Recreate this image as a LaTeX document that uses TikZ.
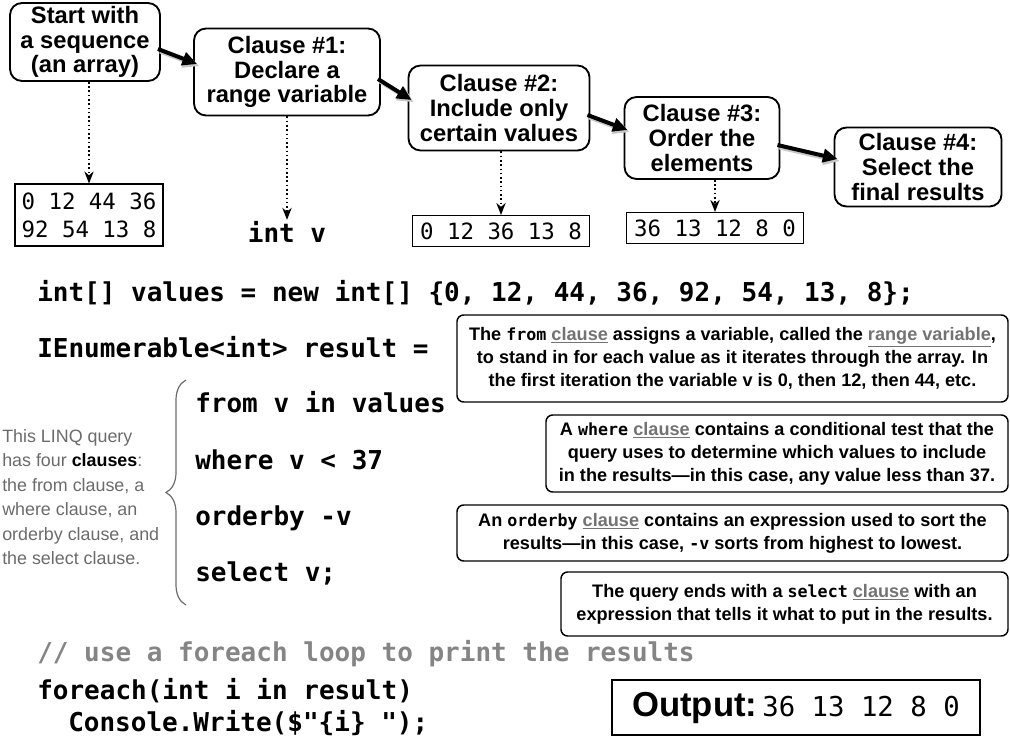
\documentclass[tikz,border=0pt]{standalone}
\usepackage{fontspec}
\setmainfont{Liberation Sans}
\newfontfamily\mono{DejaVu Sans Mono}
\usetikzlibrary{arrows.meta,calc,decorations.pathreplacing}
\definecolor{notegray}{gray}{0.42}
\definecolor{ulgray}{gray}{0.45}
\definecolor{commentgray}{gray}{0.52}
\newcommand{\ulc}[1]{\textcolor{ulgray}{\underline{#1}}}
\newcommand{\cw}[1]{{\mono\fontsize{12.5pt}{12.5pt}\selectfont #1}}
\begin{document}
\begin{tikzpicture}[x=0.75pt,y=-0.75pt,
  topbox/.style={draw, line width=1.4pt, rounded corners=9pt, align=center, inner sep=0pt,
    font=\fontsize{17.8pt}{18.4pt}\selectfont\bfseries},
  arrbox/.style={draw, line width=0.8pt, align=center, inner sep=0pt,
    font=\mono\fontsize{16.8pt}{21pt}\selectfont},
  expbox/.style={draw, line width=1.1pt, rounded corners=5pt, align=center, inner sep=0pt,
    font=\fontsize{13.6pt}{17.25pt}\selectfont\bfseries},
  codeline/.style={anchor=base west, inner sep=0pt,
    font=\mono\bfseries\fontsize{19.5pt}{19.5pt}\selectfont},
  bigarrow/.style={line width=3pt, -{Triangle[length=11pt,width=10pt]}},
  arrowshadow/.style={line width=3.5pt, black!22, -{Triangle[length=12pt,width=11pt]},
    transform canvas={shift={(1.6pt,-1.6pt)}}},
  dotarrow/.style={line width=1.2pt, dotted, -{Stealth[length=9pt,width=7pt]}}
]
\useasboundingbox (0,0) rectangle (1010,742);

% top flow boxes
\node[topbox, minimum width=150*0.75pt, minimum height=78*0.75pt] (b0) at (85,42) {Start with\\a sequence\\(an array)};
\node[topbox, minimum width=186*0.75pt, minimum height=87*0.75pt] (b1) at (287,72) {Clause \#1:\\Declare a\\range variable};
\node[topbox, minimum width=181*0.75pt, minimum height=85*0.75pt] (b2) at (499,108) {Clause \#2:\\Include only\\certain values};
\node[topbox, minimum width=155*0.75pt, minimum height=82*0.75pt] (b3) at (702,138) {Clause \#3:\\Order the\\elements};
\node[topbox, minimum width=167*0.75pt, minimum height=79*0.75pt] (b4) at (918,167) {Clause \#4:\\Select the\\final results};

% big arrows with shadow
\foreach \s/\t in {b0/b1,b1/b2,b2/b3,b3/b4}{
  \draw[arrowshadow] ($(\s.east)+(-3,7)$) -- ($(\t.west)+(4,-8)$);
  \draw[bigarrow] ($(\s.east)+(-3,7)$) -- ($(\t.west)+(4,-8)$);
}

% intermediate results
\node[arrbox, minimum width=148*0.75pt, minimum height=62*0.75pt] (a0) at (89,215) {0 12 44 36\\92 54 13 8};
\node[inner sep=1pt, font=\mono\bfseries\fontsize{19.5pt}{19.5pt}\selectfont] (iv) at (287,232) {int v};
\node[arrbox, minimum width=177*0.75pt, minimum height=31*0.75pt] (a2) at (501,231) {0 12 36 13 8};
\node[arrbox, minimum width=177*0.75pt, minimum height=31*0.75pt] (a3) at (715,228) {36 13 12 8 0};

\draw[dotarrow] (b0.south -| a0.north) -- (a0.north);
\draw[dotarrow] (b1.south -| iv.north) -- (iv.north);
\draw[dotarrow] (b2.south -| a2.north) -- (a2.north);
\draw[dotarrow] (b3.south -| a3.north) -- (a3.north);

% code
\node[codeline] (c1) at (37,301) {int[] values = new int[] \{0, 12, 44, 36, 92, 54, 13, 8\};};
\node[codeline] (c2) at (37,357) {IEnumerable<int> result =};
\node[codeline] (c3) at (195,412) {from v in values};
\node[codeline] (c4) at (195,469) {where v < 37};
\node[codeline] (c5) at (195,525) {orderby -v};
\node[codeline] (c6) at (195,581) {select v;};
\node[codeline, text=commentgray] (c7) at (37,661) {// use a foreach loop to print the results};
\node[codeline] (c8) at (37,699) {foreach(int i in result)};
\node[codeline] (c9) at (68,731) {Console.Write(\$"\{i\} ");};

% brace and note
\draw[notegray, line width=0.9pt, decorate, decoration={brace, amplitude=15pt}] (186,605) -- (186,380);
\node[anchor=north west, align=left, inner sep=0pt, text=notegray,
  font=\fontsize{13.4pt}{18.4pt}\selectfont] (note) at (2,429)
  {This LINQ query\\has four \textcolor{black}{\bfseries clauses}:\\the from clause, a\\where clause, an\\orderby clause, and\\the select clause.};

% explanation boxes
\node[expbox, minimum width=551*0.75pt, minimum height=87*0.75pt] (e1) at (732.5,358.5)
  {The \cw{from} \ulc{clause} assigns a variable, called the \ulc{range variable},\\
   to stand in for each value as it iterates through the array. In\\
   the first iteration the variable v is 0, then 12, then 44, etc.};
\node[expbox, minimum width=462*0.75pt, minimum height=77*0.75pt] (e2) at (777,453.5)
  {A \cw{where} \ulc{clause} contains a conditional test that the\\
   query uses to determine which values to include\\
   in the results—in this case, any value less than 37.};
\node[expbox, minimum width=551*0.75pt, minimum height=56*0.75pt] (e3) at (732.5,533)
  {An \cw{orderby} \ulc{clause} contains an expression used to sort the\\
   results—in this case, \cw{-v} sorts from highest to lowest.};
\node[expbox, minimum width=447*0.75pt, minimum height=64*0.75pt] (e4) at (784.5,604)
  {The query ends with a \cw{select} \ulc{clause} with an\\
   expression that tells it what to put in the results.};

% output
\node[draw, line width=1.4pt, inner sep=0pt, minimum width=368*0.75pt, minimum height=55*0.75pt] (out) at (796,707.5)
  {{\fontsize{26pt}{26pt}\selectfont\bfseries Output:} {\mono\fontsize{20.5pt}{20.5pt}\selectfont 36 13 12 8 0}};
\end{tikzpicture}
\end{document}
